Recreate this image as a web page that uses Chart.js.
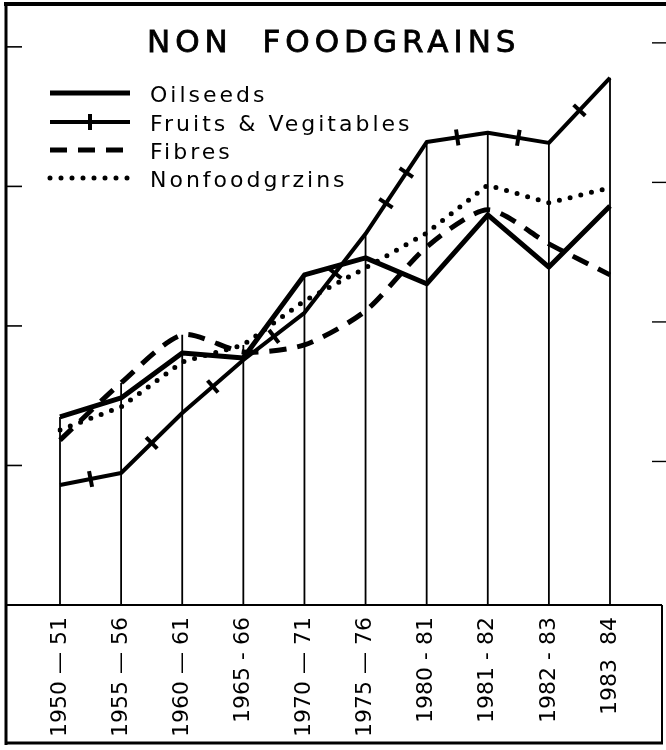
<!DOCTYPE html>
<html>
<head>
<meta charset="utf-8">
<title>Non Foodgrains</title>
<script src="https://cdn.jsdelivr.net/npm/chart.js"></script>
<style>
  html, body { margin: 0; padding: 0; background: #fff; }
  #chart { display: block; }
</style>
</head>
<body>
<canvas id="chart" width="666" height="750"></canvas>
<script>
// ---------------- data ----------------
var years = ['1950 — 51', '1955 — 56', '1960 — 61', '1965 - 66', '1970 — 71',
             '1975 — 76', '1980 - 81', '1981 - 82', '1982 - 83', '1983  84'];
var oilseeds = [67.4, 74.2, 90.3, 88.5, 118.3, 124.4, 115.1, 139.8, 121.1, 143.0];
var fruits   = [43.0, 47.3, 68.8, 87.8, 104.7, 133.0, 165.9, 169.2, 165.6, 188.9];
var fibres   = [59.1, 79.6, 96.8, 90.7, 93.2, 105.4, 128.3, 141.6, 129.4, 118.3];
var nonfood  = [62.7, 71.0, 87.1, 93.2, 109.0, 120.8, 133.3, 150.5, 144.1, 149.5];
var yTicks   = [50, 100, 150, 200];

var title = 'NON  FOODGRAINS';
var names = ['Oilseeds', 'Fruits & Vegitables', 'Fibres', 'Nonfoodgrzins'];

// ---------------- drawing helpers ----------------
function line(ctx, x1, y1, x2, y2, w) {
    ctx.lineWidth = w;
    ctx.beginPath();
    ctx.moveTo(x1, y1);
    ctx.lineTo(x2, y2);
    ctx.stroke();
}

// perpendicular cross ticks along the fruits line
function crossTicks(ctx, pts, half) {
    for (var i = 0; i < pts.length - 1; i++) {
        var a = pts[i], b = pts[i + 1];
        var dx = b.x - a.x, dy = b.y - a.y;
        var len = Math.sqrt(dx * dx + dy * dy);
        var nx = -dy / len, ny = dx / len;
        var fr = len >= 100 ? [1 / 3, 2 / 3] : [0.5];
        fr.forEach(function(f) {
            var cx = a.x + dx * f, cy = a.y + dy * f;
            line(ctx, cx - nx * half, cy - ny * half, cx + nx * half, cy + ny * half, 4);
        });
    }
}

var framePlugin = {
    id: 'frame',
    beforeDatasetsDraw: function(chart) {
        var ctx = chart.ctx, xs = chart.scales.x, ys = chart.scales.y;
        ctx.save();
        ctx.strokeStyle = '#000';
        // drop lines from the top series down to the base
        years.forEach(function(_, i) {
            var top = Math.max(oilseeds[i], fruits[i], fibres[i], nonfood[i]);
            var px = xs.getPixelForValue(i);
            line(ctx, px, ys.getPixelForValue(0), px, ys.getPixelForValue(top), 1.8);
        });
        ctx.restore();
    },
    afterDatasetsDraw: function(chart) {
        var ctx = chart.ctx;
        ctx.save();
        ctx.strokeStyle = '#000';
        ctx.lineCap = 'butt';
        crossTicks(ctx, chart.getDatasetMeta(1).data, 8);
        ctx.restore();
    },
    afterDraw: function(chart) {
        var ctx = chart.ctx, ys = chart.scales.y;
        var base = chart.chartArea.bottom;
        ctx.save();
        ctx.strokeStyle = '#000';
        ctx.fillStyle = '#000';

        // outer frame
        line(ctx, 4, 4, 666, 4, 4);
        line(ctx, 6, 3, 6, 745, 3);
        line(ctx, 6, base, 662, base, 2);
        line(ctx, 6, 743, 663, 743, 3);
        line(ctx, 662, base, 662, 744, 2);

        // y tick marks on both edges
        yTicks.forEach(function(v) {
            var py = ys.getPixelForValue(v);
            line(ctx, 6, py, 22, py, 1.6);
            line(ctx, 652, py - 4, 666, py - 4, 1.4);
        });

        // title
        ctx.font = '31px "DejaVu Sans"';
        ctx.letterSpacing = '5px';
        ctx.textAlign = 'left';
        ctx.textBaseline = 'alphabetic';
        ctx.lineWidth = 0.8;
        ctx.fillText(title, 147, 52);
        ctx.strokeText(title, 147, 52);

        // legend
        var rows = [93, 122, 150, 178];
        ctx.font = '22px "DejaVu Sans"';
        ctx.letterSpacing = '3px';
        chart.data.datasets.forEach(function(ds, i) {
            var ry = rows[i];
            ctx.save();
            ctx.lineCap = ds.borderCapStyle || 'butt';
            ctx.setLineDash(ds.borderDash || []);
            line(ctx, 50, ry, 130, ry, ds.borderWidth);
            ctx.restore();
            if (i === 1) line(ctx, 90, ry - 8, 90, ry + 8, 4);
            ctx.fillText(names[i], 150, ry + 9);
        });
        ctx.restore();
    }
};

var ctx = document.getElementById('chart').getContext('2d');
var chart = new Chart(ctx, {
    type: 'line',
    data: {
        labels: years,
        datasets: [
            { label: names[0], data: oilseeds, borderColor: '#000', borderWidth: 5,
              borderJoinStyle: 'round', tension: 0 },
            { label: names[1], data: fruits, borderColor: '#000', borderWidth: 4,
              borderJoinStyle: 'round', tension: 0 },
            { label: names[2], data: fibres, borderColor: '#000', borderWidth: 5,
              borderDash: [17, 11], tension: 0.25 },
            { label: names[3], data: nonfood, borderColor: '#000', borderWidth: 5,
              borderDash: [0, 11], borderCapStyle: 'round', tension: 0 }
        ]
    },
    options: {
        responsive: false,
        animation: false,
        layout: { padding: { left: 60, right: 56, top: 5, bottom: 5 } },
        elements: { point: { radius: 0, hoverRadius: 0 } },
        scales: {
            x: {
                type: 'category',
                offset: false,
                grid: { display: false, drawTicks: false },
                border: { display: false },
                ticks: {
                    autoSkip: false,
                    minRotation: 90,
                    maxRotation: 90,
                    padding: 12,
                    color: '#000',
                    font: { family: 'DejaVu Sans', size: 22 }
                },
                afterFit: function(scale) { scale.height = 140; }
            },
            y: { display: false, min: 0, max: 215 }
        },
        plugins: {
            legend: { display: false },
            tooltip: { enabled: false }
        }
    },
    plugins: [framePlugin]
});
</script>
</body>
</html>
